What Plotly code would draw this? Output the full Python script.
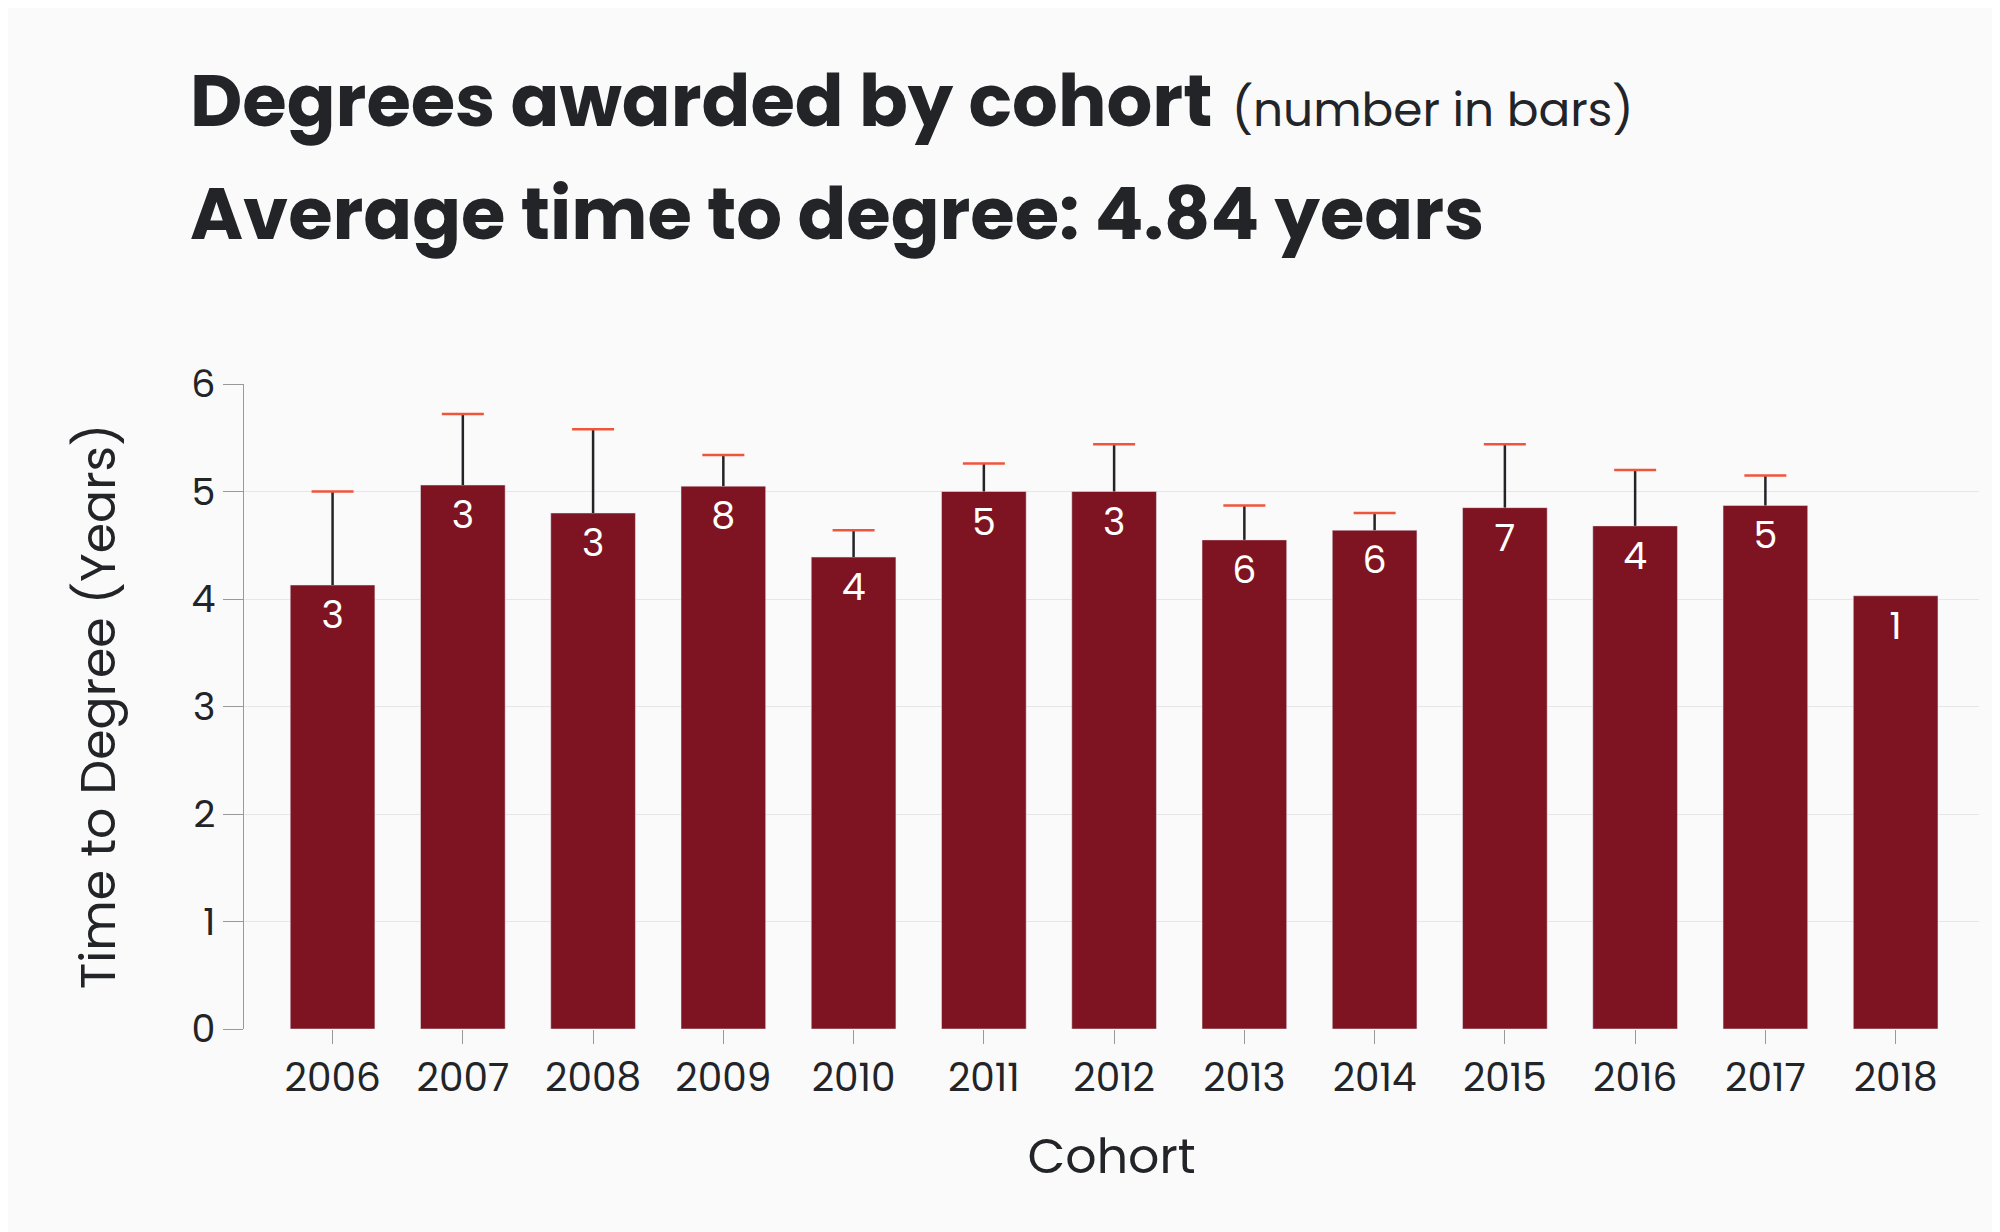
import plotly.graph_objects as go

cohorts = ["2006", "2007", "2008", "2009", "2010", "2011", "2012",
           "2013", "2014", "2015", "2016", "2017", "2018"]
avg_years = [4.13, 5.06, 4.80, 5.05, 4.39, 5.00, 5.00, 4.55, 4.64, 4.85, 4.68, 4.87, 4.03]
err_plus = [0.87, 0.66, 0.78, 0.29, 0.25, 0.26, 0.44, 0.32, 0.16, 0.59, 0.52, 0.28, 0]
degrees = [3, 3, 3, 8, 4, 5, 3, 6, 6, 7, 4, 5, 1]

font = "Poppins, Inter, Lato, sans-serif"
dark = "#222428"

fig = go.Figure()
fig.add_trace(go.Bar(
    x=cohorts,
    y=avg_years,
    text=[str(d) for d in degrees],
    textposition="inside",
    insidetextanchor="end",
    textfont=dict(color="white", size=38, family=font),
    marker_color="#7e1421",
    width=0.65,
    error_y=dict(type="data", symmetric=False, array=err_plus,
                 arrayminus=[0] * len(err_plus), color=dark,
                 thickness=2.5, width=0),
))
# caps only at the top of the error bars
cap_x = [c for c, e in zip(cohorts, err_plus) if e > 0]
cap_y = [v + e for v, e in zip(avg_years, err_plus) if e > 0]
fig.add_trace(go.Scatter(
    x=cap_x, y=cap_y, mode="markers", hoverinfo="skip",
    marker=dict(symbol="line-ew-open", size=30, line=dict(color=dark, width=2.5)),
))

fig.update_layout(
    width=2000, height=1232,
    paper_bgcolor="#fafafa", plot_bgcolor="#fafafa",
    margin=dict(l=236, r=29, t=376, b=211),
    font=dict(family=font, color=dark, size=38),
    showlegend=False,
    xaxis=dict(title=dict(text="Cohort", font=dict(size=49), standoff=34),
               range=[-0.68, 12.64],
               ticks="outside", ticklen=14, tickcolor="#999", showline=False,
               tickfont=dict(size=39)),
    yaxis=dict(title=dict(text="Time to Degree (Years)", font=dict(size=49), standoff=60),
               range=[0, 6], dtick=1, gridcolor="#e6e6e6", showline=True,
               linecolor="#999", ticks="outside", ticklen=20, tickcolor="#999",
               tickfont=dict(size=38), zeroline=False),
    annotations=[
        dict(text="<b>Degrees awarded by cohort</b> <span style='font-size:47px'>(number in bars)</span>",
             x=180, y=1232 - 92, xref="paper", yref="paper", showarrow=False,
             xanchor="left", yanchor="middle", font=dict(size=72, color=dark)),
        dict(text="<b>Average time to degree: 4.84 years</b>",
             x=180, y=1232 - 206, xref="paper", yref="paper", showarrow=False,
             xanchor="left", yanchor="middle", font=dict(size=72, color=dark)),
    ],
)
# convert pixel positions of the titles to paper coords
pw, ph = 2000 - 236 - 29, 1232 - 376 - 211
for a in fig.layout.annotations:
    a.x = (a.x - 236) / pw
    a.y = (a.y - 211) / ph

fig.write_html("out.html")
